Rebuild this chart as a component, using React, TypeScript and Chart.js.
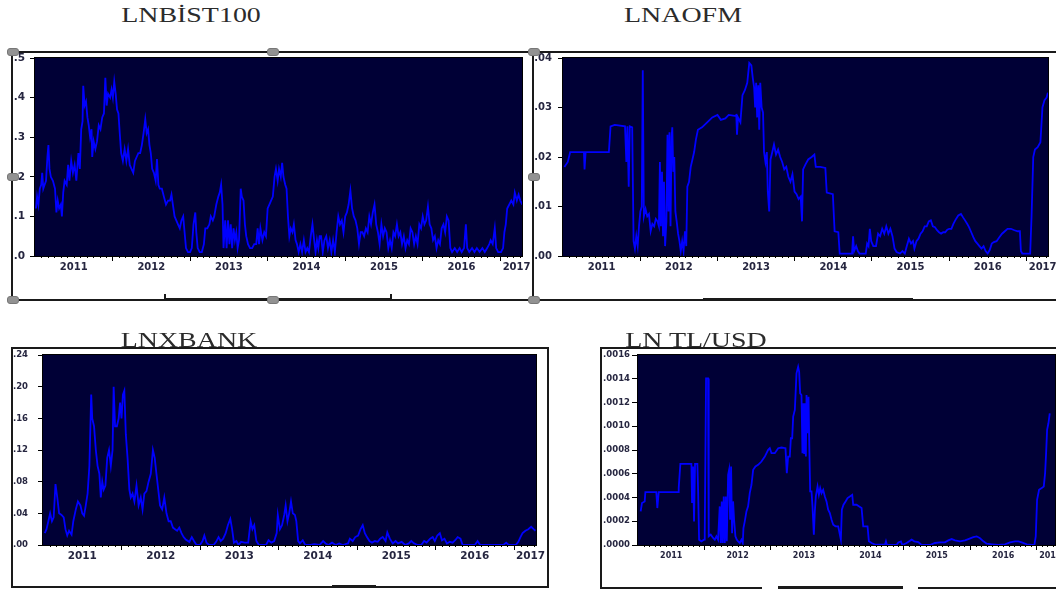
import React, { useEffect, useRef } from 'react';
import { Chart, registerables } from 'chart.js';

Chart.register(...registerables);

// ---------------- DATA ----------------
const YEAR_LABELS = ['2011', '2012', '2013', '2014', '2015', '2016', '2017'];
const X_MIN = 2011.0;
const X_MAX = 2017.28;

const BIST_Y_TICKS = [0, 0.1, 0.2, 0.3, 0.4, 0.5];
const AOFM_Y_TICKS = [0, 0.01, 0.02, 0.03, 0.04];
const XBANK_Y_TICKS = [0, 0.04, 0.08, 0.12, 0.16, 0.2, 0.24];
const TLUSD_Y_TICKS = [0, 0.0002, 0.0004, 0.0006, 0.0008, 0.001, 0.0012, 0.0014, 0.0016];

const TITLES = ['LNBİST100', 'LNAOFM', 'LNXBANK', 'LN TL/USD'];

// [date (fractional year), value]
const BIST100: [number, number][] = [
  [2011.013,0.12],[2011.027,0.15],[2011.044,0.13],[2011.062,0.17],[2011.080,0.18],[2011.093,0.21],[2011.107,0.17],[2011.124,0.18],[2011.142,0.19],[2011.160,0.25],[2011.173,0.28],[2011.187,0.22],[2011.204,0.20],[2011.231,0.19],[2011.258,0.17],[2011.276,0.11],[2011.293,0.14],[2011.311,0.12],[2011.333,0.13],[2011.347,0.10],[2011.364,0.16],[2011.382,0.19],[2011.409,0.18],[2011.427,0.23],[2011.444,0.19],[2011.467,0.24],[2011.489,0.21],[2011.511,0.23],[2011.533,0.19],[2011.560,0.26],[2011.578,0.22],[2011.596,0.32],[2011.613,0.34],[2011.622,0.43],[2011.640,0.38],[2011.658,0.39],[2011.676,0.35],[2011.693,0.33],[2011.711,0.30],[2011.729,0.32],[2011.738,0.25],[2011.756,0.29],[2011.778,0.27],[2011.800,0.29],[2011.822,0.33],[2011.844,0.32],[2011.867,0.35],[2011.889,0.36],[2011.907,0.45],[2011.924,0.38],[2011.942,0.41],[2011.969,0.40],[2011.987,0.42],
  [2012.004,0.40],[2012.022,0.44],[2012.040,0.41],[2012.058,0.37],[2012.076,0.36],[2012.093,0.31],[2012.111,0.26],[2012.133,0.24],[2012.156,0.27],[2012.178,0.24],[2012.200,0.27],[2012.222,0.23],[2012.244,0.22],[2012.267,0.21],[2012.289,0.24],[2012.311,0.25],[2012.333,0.26],[2012.356,0.26],[2012.378,0.28],[2012.400,0.31],[2012.422,0.345],[2012.440,0.31],[2012.458,0.32],[2012.476,0.28],[2012.493,0.26],[2012.511,0.22],[2012.533,0.21],[2012.556,0.19],[2012.573,0.245],[2012.591,0.18],[2012.609,0.17],[2012.636,0.17],[2012.662,0.15],[2012.689,0.13],[2012.716,0.14],[2012.742,0.14],[2012.760,0.155],[2012.778,0.13],[2012.800,0.10],[2012.822,0.09],[2012.844,0.08],[2012.867,0.07],[2012.889,0.09],[2012.911,0.10],[2012.929,0.06],[2012.947,0.02],[2012.973,0.01],
  [2013.000,0.01],[2013.022,0.02],[2013.044,0.08],[2013.067,0.11],[2013.080,0.06],[2013.098,0.02],[2013.124,0.01],[2013.151,0.01],[2013.178,0.03],[2013.196,0.07],[2013.222,0.07],[2013.249,0.08],[2013.267,0.10],[2013.293,0.09],[2013.311,0.10],[2013.338,0.13],[2013.364,0.15],[2013.382,0.16],[2013.400,0.18],[2013.418,0.13],[2013.431,0.02],[2013.453,0.09],[2013.471,0.02],[2013.489,0.09],[2013.507,0.03],[2013.524,0.08],[2013.542,0.02],[2013.560,0.07],[2013.578,0.04],[2013.596,0.06],[2013.613,0.02],[2013.631,0.04],[2013.653,0.17],[2013.667,0.15],[2013.689,0.14],[2013.707,0.08],[2013.724,0.05],[2013.747,0.03],[2013.773,0.02],[2013.800,0.02],[2013.827,0.03],[2013.853,0.03],[2013.871,0.07],[2013.889,0.03],[2013.907,0.07],[2013.933,0.04],[2013.956,0.06],[2013.978,0.05],
  [2014.000,0.12],[2014.022,0.13],[2014.044,0.14],[2014.067,0.15],[2014.089,0.20],[2014.107,0.22],[2014.129,0.19],[2014.147,0.22],[2014.169,0.20],[2014.187,0.235],[2014.204,0.20],[2014.227,0.18],[2014.244,0.17],[2014.262,0.10],[2014.280,0.05],[2014.298,0.07],[2014.320,0.06],[2014.338,0.08],[2014.360,0.04],[2014.378,0.03],[2014.400,0.01],[2014.422,0.03],[2014.444,0.01],[2014.467,0.04],[2014.489,0.01],[2014.511,0.02],[2014.533,0.01],[2014.556,0.05],[2014.578,0.08],[2014.600,0.04],[2014.618,0.01],[2014.636,0.04],[2014.653,0.02],[2014.671,0.05],[2014.689,0.05],[2014.711,0.01],[2014.733,0.04],[2014.756,0.05],[2014.778,0.02],[2014.800,0.04],[2014.822,0.01],[2014.844,0.04],[2014.867,0.01],[2014.889,0.06],[2014.911,0.10],[2014.933,0.08],[2014.956,0.09],[2014.978,0.06],
  [2015.000,0.10],[2015.022,0.11],[2015.044,0.13],[2015.067,0.165],[2015.089,0.12],[2015.111,0.10],[2015.133,0.09],[2015.156,0.07],[2015.178,0.03],[2015.200,0.06],[2015.222,0.06],[2015.244,0.05],[2015.267,0.07],[2015.289,0.06],[2015.311,0.10],[2015.333,0.08],[2015.356,0.11],[2015.378,0.13],[2015.400,0.08],[2015.422,0.06],[2015.444,0.03],[2015.467,0.08],[2015.489,0.05],[2015.511,0.07],[2015.533,0.06],[2015.556,0.02],[2015.578,0.04],[2015.600,0.02],[2015.622,0.06],[2015.644,0.05],[2015.667,0.08],[2015.689,0.05],[2015.711,0.06],[2015.733,0.03],[2015.756,0.05],[2015.778,0.02],[2015.800,0.04],[2015.822,0.03],[2015.844,0.07],[2015.867,0.06],[2015.889,0.03],[2015.911,0.05],[2015.933,0.03],[2015.956,0.08],[2015.978,0.07],
  [2016.000,0.10],[2016.022,0.08],[2016.044,0.09],[2016.067,0.125],[2016.089,0.08],[2016.111,0.07],[2016.133,0.04],[2016.156,0.05],[2016.178,0.02],[2016.200,0.04],[2016.222,0.03],[2016.244,0.07],[2016.267,0.08],[2016.289,0.06],[2016.311,0.10],[2016.333,0.09],[2016.356,0.02],[2016.378,0.01],[2016.413,0.02],[2016.444,0.01],[2016.476,0.02],[2016.502,0.01],[2016.533,0.02],[2016.556,0.08],[2016.573,0.02],[2016.600,0.01],[2016.636,0.02],[2016.667,0.01],[2016.698,0.02],[2016.733,0.01],[2016.769,0.02],[2016.800,0.01],[2016.831,0.02],[2016.858,0.03],[2016.876,0.04],[2016.902,0.03],[2016.929,0.07],[2016.947,0.02],[2016.973,0.01],
  [2017.009,0.01],[2017.036,0.02],[2017.053,0.06],[2017.071,0.08],[2017.089,0.12],[2017.116,0.13],[2017.142,0.14],[2017.169,0.13],[2017.187,0.16],[2017.213,0.14],[2017.236,0.155],[2017.258,0.14],[2017.284,0.13],
];

const AOFM: [number, number][] = [
  [2011.018,0.0180],[2011.062,0.0190],[2011.093,0.0210],[2011.271,0.0210],[2011.279,0.0175],[2011.293,0.0210],[2011.594,0.0210],[2011.616,0.0262],[2011.670,0.0265],[2011.803,0.0262],[2011.820,0.0190],[2011.834,0.0262],[2011.851,0.0140],[2011.865,0.0262],[2011.896,0.0260],[2011.914,0.0030],[2011.931,0.0015],[2011.949,0.0040],[2011.967,0.0020],[2011.984,0.0060],
  [2012.002,0.0090],[2012.020,0.0100],[2012.033,0.0375],[2012.047,0.0080],[2012.069,0.0095],[2012.091,0.0080],[2012.113,0.0085],[2012.135,0.0050],[2012.157,0.0065],[2012.180,0.0060],[2012.202,0.0075],[2012.224,0.0070],[2012.242,0.0060],[2012.255,0.0190],[2012.268,0.0060],[2012.282,0.0170],[2012.295,0.0040],[2012.308,0.0150],[2012.322,0.0020],[2012.339,0.0070],[2012.353,0.0245],[2012.366,0.0090],[2012.379,0.0250],[2012.392,0.0060],[2012.406,0.0240],[2012.415,0.0260],[2012.428,0.0170],[2012.441,0.0200],[2012.455,0.0090],[2012.472,0.0070],[2012.490,0.0045],[2012.508,0.0030],[2012.525,0.0010],[2012.543,0.0030],[2012.561,0.0010],[2012.579,0.0050],[2012.596,0.0020],[2012.610,0.0140],[2012.632,0.0150],[2012.654,0.0180],[2012.676,0.0195],[2012.698,0.0210],[2012.721,0.0235],[2012.747,0.0255],[2012.800,0.0260],[2012.867,0.0270],[2012.933,0.0280],
  [2013.000,0.0285],[2013.044,0.0275],[2013.102,0.0278],[2013.146,0.0285],[2013.222,0.0283],[2013.244,0.0285],[2013.253,0.0245],[2013.266,0.0280],[2013.297,0.0270],[2013.324,0.0325],[2013.355,0.0335],[2013.386,0.0350],[2013.412,0.0390],[2013.439,0.0385],[2013.457,0.0360],[2013.475,0.0340],[2013.488,0.0300],[2013.501,0.0350],[2013.514,0.0280],[2013.528,0.0345],[2013.541,0.0255],[2013.554,0.0350],[2013.572,0.0300],[2013.590,0.0290],[2013.603,0.0210],[2013.621,0.0190],[2013.639,0.0210],[2013.652,0.0130],[2013.670,0.0090],[2013.687,0.0195],[2013.710,0.0210],[2013.732,0.0225],[2013.758,0.0205],[2013.785,0.0215],[2013.812,0.0200],[2013.838,0.0190],[2013.865,0.0175],[2013.891,0.0180],[2013.918,0.0160],[2013.945,0.0150],[2013.971,0.0165],[2013.998,0.0130],
  [2014.024,0.0125],[2014.051,0.0115],[2014.078,0.0120],[2014.095,0.0070],[2014.109,0.0175],[2014.140,0.0185],[2014.175,0.0195],[2014.220,0.0200],[2014.255,0.0205],[2014.273,0.0180],[2014.330,0.0180],[2014.397,0.0178],[2014.415,0.0128],[2014.494,0.0125],[2014.517,0.0050],[2014.565,0.0048],[2014.583,0.0005],[2014.743,0.0005],[2014.756,0.0040],[2014.769,0.0010],[2014.796,0.0020],[2014.818,0.0010],[2014.840,0.0005],[2014.920,0.0005],[2014.938,0.0025],[2014.956,0.0020],[2014.973,0.0055],[2014.991,0.0030],
  [2015.018,0.0020],[2015.053,0.0020],[2015.080,0.0045],[2015.106,0.0040],[2015.133,0.0055],[2015.160,0.0045],[2015.186,0.0060],[2015.213,0.0045],[2015.239,0.0055],[2015.266,0.0040],[2015.293,0.0015],[2015.319,0.0008],[2015.364,0.0005],[2015.395,0.0010],[2015.426,0.0005],[2015.452,0.0020],[2015.479,0.0035],[2015.506,0.0025],[2015.532,0.0030],[2015.550,0.0015],[2015.577,0.0030],[2015.603,0.0035],[2015.630,0.0045],[2015.656,0.0050],[2015.683,0.0060],[2015.710,0.0060],[2015.736,0.0070],[2015.763,0.0072],[2015.789,0.0060],[2015.816,0.0058],[2015.843,0.0052],[2015.869,0.0048],[2015.896,0.0045],[2015.922,0.0048],[2015.949,0.0048],[2015.976,0.0053],
  [2016.002,0.0055],[2016.029,0.0055],[2016.055,0.0065],[2016.082,0.0073],[2016.118,0.0082],[2016.153,0.0085],[2016.180,0.0078],[2016.206,0.0072],[2016.233,0.0065],[2016.259,0.0058],[2016.286,0.0048],[2016.313,0.0038],[2016.339,0.0030],[2016.366,0.0025],[2016.392,0.0020],[2016.419,0.0015],[2016.446,0.0020],[2016.472,0.0010],[2016.499,0.0005],[2016.525,0.0012],[2016.552,0.0025],[2016.579,0.0028],[2016.614,0.0030],[2016.650,0.0038],[2016.685,0.0045],[2016.721,0.0050],[2016.756,0.0055],[2016.800,0.0055],[2016.845,0.0052],[2016.889,0.0050],[2016.916,0.0050],[2016.929,0.0010],[2016.947,0.0005],
  [2017.049,0.0005],[2017.067,0.0080],[2017.089,0.0200],[2017.111,0.0215],[2017.146,0.0220],[2017.182,0.0230],[2017.208,0.0300],[2017.235,0.0315],[2017.262,0.0320],[2017.279,0.0330],
];

const XBANK: [number, number][] = [
  [2011.023,0.015],[2011.045,0.020],[2011.068,0.030],[2011.091,0.040],[2011.114,0.030],[2011.136,0.035],[2011.159,0.077],[2011.182,0.060],[2011.205,0.040],[2011.236,0.038],[2011.264,0.035],[2011.286,0.020],[2011.309,0.012],[2011.332,0.018],[2011.364,0.013],[2011.386,0.030],[2011.418,0.045],[2011.445,0.055],[2011.477,0.050],[2011.500,0.040],[2011.523,0.037],[2011.545,0.050],[2011.568,0.065],[2011.591,0.100],[2011.614,0.190],[2011.627,0.160],[2011.650,0.150],[2011.673,0.120],[2011.695,0.100],[2011.718,0.090],[2011.736,0.060],[2011.755,0.080],[2011.773,0.070],[2011.795,0.075],[2011.818,0.110],[2011.841,0.120],[2011.864,0.100],[2011.886,0.120],[2011.900,0.200],[2011.918,0.150],[2011.941,0.150],[2011.964,0.160],[2011.982,0.180],
  [2012.000,0.160],[2012.018,0.190],[2012.036,0.195],[2012.055,0.140],[2012.077,0.110],[2012.100,0.070],[2012.118,0.060],[2012.141,0.065],[2012.164,0.055],[2012.191,0.075],[2012.218,0.050],[2012.245,0.060],[2012.268,0.045],[2012.291,0.065],[2012.318,0.068],[2012.345,0.080],[2012.373,0.090],[2012.400,0.120],[2012.423,0.110],[2012.445,0.090],[2012.468,0.070],[2012.491,0.050],[2012.518,0.045],[2012.545,0.060],[2012.573,0.040],[2012.600,0.030],[2012.627,0.030],[2012.655,0.022],[2012.682,0.020],[2012.709,0.018],[2012.736,0.022],[2012.764,0.015],[2012.791,0.010],[2012.818,0.007],[2012.864,0.004],[2012.895,0.010],[2012.923,0.005],[2012.955,0.000],
  [2013.000,0.000],[2013.032,0.005],[2013.055,0.012],[2013.082,0.003],[2013.114,0.000],[2013.173,0.000],[2013.205,0.004],[2013.236,0.010],[2013.264,0.005],[2013.295,0.008],[2013.327,0.015],[2013.355,0.025],[2013.386,0.033],[2013.409,0.020],[2013.432,0.003],[2013.464,0.005],[2013.491,0.000],[2013.523,0.004],[2013.568,0.003],[2013.614,0.003],[2013.645,0.030],[2013.668,0.020],[2013.691,0.025],[2013.718,0.005],[2013.750,0.000],[2013.841,0.000],[2013.873,0.006],[2013.909,0.003],[2013.945,0.005],[2013.977,0.015],[2013.991,0.038],
  [2014.018,0.020],[2014.045,0.025],[2014.073,0.038],[2014.091,0.050],[2014.114,0.030],[2014.136,0.040],[2014.159,0.055],[2014.182,0.040],[2014.209,0.038],[2014.227,0.030],[2014.250,0.005],[2014.273,0.002],[2014.309,0.006],[2014.341,0.000],[2014.409,0.000],[2014.455,0.001],[2014.523,0.000],[2014.568,0.005],[2014.600,0.002],[2014.636,0.000],[2014.682,0.003],[2014.727,0.000],[2014.773,0.002],[2014.818,0.000],[2014.886,0.002],[2014.909,0.008],[2014.945,0.005],[2014.977,0.010],
  [2015.014,0.012],[2015.045,0.020],[2015.073,0.025],[2015.100,0.015],[2015.127,0.010],[2015.159,0.005],[2015.191,0.003],[2015.227,0.005],[2015.264,0.004],[2015.295,0.008],[2015.327,0.010],[2015.364,0.005],[2015.386,0.016],[2015.418,0.008],[2015.455,0.002],[2015.491,0.005],[2015.523,0.002],[2015.568,0.004],[2015.614,0.000],[2015.659,0.002],[2015.691,0.005],[2015.727,0.002],[2015.773,0.000],[2015.818,0.000],[2015.855,0.005],[2015.886,0.003],[2015.932,0.008],[2015.964,0.010],[2015.991,0.005],
  [2016.023,0.012],[2016.055,0.015],[2016.082,0.006],[2016.114,0.008],[2016.145,0.002],[2016.182,0.004],[2016.218,0.003],[2016.250,0.006],[2016.282,0.010],[2016.318,0.008],[2016.345,0.000],[2016.500,0.000],[2016.536,0.005],[2016.568,0.000],[2016.864,0.000],[2016.900,0.003],[2016.932,0.000],
  [2017.023,0.000],[2017.055,0.004],[2017.082,0.010],[2017.109,0.015],[2017.145,0.018],[2017.182,0.020],[2017.218,0.023],[2017.250,0.020],[2017.273,0.018],
];

const TLUSD: [number, number][] = [
  [2011.040,0.000283],[2011.060,0.000353],[2011.101,0.000367],[2011.111,0.000445],[2011.276,0.000445],[2011.291,0.000311],[2011.312,0.000445],[2011.603,0.000445],[2011.613,0.000479],[2011.638,0.000683],[2011.804,0.000683],[2011.814,0.000353],[2011.829,0.000661],[2011.844,0.000199],[2011.859,0.000683],[2011.894,0.000683],[2011.905,0.000465],[2011.920,0.000045],[2011.955,0.000031],[2011.995,0.000045],
  [2012.005,0.000100],[2012.025,0.001403],[2012.055,0.001403],[2012.065,0.000073],[2012.095,0.000087],[2012.131,0.000059],[2012.156,0.000045],[2012.181,0.000073],[2012.206,0.000045],[2012.231,0.000325],[2012.246,0.000017],[2012.261,0.000367],[2012.276,0.000017],[2012.291,0.000409],[2012.307,0.000017],[2012.322,0.000409],[2012.337,0.000031],[2012.357,0.000591],[2012.372,0.000633],[2012.387,0.000213],[2012.402,0.000661],[2012.417,0.000100],[2012.432,0.000367],[2012.447,0.000213],[2012.467,0.000073],[2012.487,0.000045],[2012.508,0.000031],[2012.533,0.000017],[2012.558,0.000045],[2012.578,0.000017],[2012.588,0.000143],[2012.608,0.000199],[2012.633,0.000283],[2012.658,0.000325],[2012.683,0.000437],[2012.709,0.000507],[2012.734,0.000633],[2012.769,0.000661],[2012.809,0.000675],[2012.859,0.000703],[2012.910,0.000745],[2012.960,0.000801],[2012.985,0.000815],
  [2013.010,0.000773],[2013.060,0.000773],[2013.111,0.000815],[2013.161,0.000821],[2013.221,0.000815],[2013.241,0.000605],[2013.261,0.000745],[2013.286,0.000745],[2013.302,0.000899],[2013.322,0.000899],[2013.337,0.001081],[2013.362,0.001137],[2013.387,0.001445],[2013.412,0.001501],[2013.427,0.001459],[2013.442,0.001277],[2013.462,0.001263],[2013.477,0.000773],[2013.487,0.001193],[2013.503,0.000773],[2013.513,0.001193],[2013.528,0.000745],[2013.538,0.001263],[2013.553,0.000941],[2013.568,0.001249],[2013.578,0.000885],[2013.593,0.000451],[2013.613,0.000451],[2013.628,0.000325],[2013.648,0.000087],[2013.663,0.000283],[2013.678,0.000409],[2013.704,0.000493],[2013.724,0.000423],[2013.744,0.000479],[2013.764,0.000437],[2013.789,0.000465],[2013.814,0.000409],[2013.839,0.000367],[2013.864,0.000297],[2013.889,0.000269],[2013.915,0.000213],[2013.940,0.000171],[2013.975,0.000157],
  [2014.015,0.000157],[2014.055,0.000045],[2014.070,0.000297],[2014.095,0.000339],[2014.126,0.000367],[2014.156,0.000395],[2014.191,0.000409],[2014.226,0.000423],[2014.241,0.000339],[2014.291,0.000339],[2014.332,0.000325],[2014.367,0.000311],[2014.392,0.000157],[2014.457,0.000157],[2014.477,0.000031],[2014.518,0.000017],[2014.568,0.000003],[2014.719,0.000003],[2014.734,0.000031],[2014.749,0.0],[2014.894,0.0],[2014.920,0.000022],[2014.960,0.000031],[2014.980,0.0],
  [2015.045,0.000017],[2015.121,0.000045],[2015.161,0.000031],[2015.221,0.000025],[2015.271,0.0],[2015.397,0.0],[2015.472,0.000017],[2015.548,0.000022],[2015.623,0.000022],[2015.673,0.000039],[2015.724,0.000050],[2015.774,0.000039],[2015.849,0.000031],[2015.925,0.000039],[2015.975,0.000050],
  [2016.050,0.000067],[2016.101,0.000073],[2016.151,0.000056],[2016.201,0.000031],[2016.251,0.000011],[2016.327,0.000006],[2016.427,0.0],[2016.528,0.000006],[2016.603,0.000022],[2016.678,0.000031],[2016.729,0.000031],[2016.779,0.000022],[2016.854,0.000006],[2016.930,0.0],[2016.970,0.0],[2016.990,0.000073],
  [2017.010,0.000381],[2017.040,0.000465],[2017.080,0.000479],[2017.111,0.000493],[2017.131,0.000605],[2017.146,0.000773],[2017.161,0.000969],[2017.181,0.001025],[2017.201,0.001109],
];

// ---------------- STYLE ----------------
const NAVY = '#000036';
const LINE_BLUE = '#0000ff';
const LABEL_COLOR = '#262640';
const FRAME = '#1a1a1a';

// x ticks: year boundaries (tick marks) + mid-year label positions
const X_TICKS = YEAR_LABELS.flatMap((label, i) => {
  const yr = Number(label);
  const out: any[] = [];
  if (i > 0) out.push({ value: yr, isYear: true, txt: '' });
  out.push({ value: i < YEAR_LABELS.length - 1 ? yr + 0.5 : yr + 0.21, isYear: false, txt: label });
  return out;
});

const plotFramePlugin = {
  id: 'plotFrame',
  beforeDatasetsDraw(chart: any) {
    const { ctx, chartArea: a } = chart;
    ctx.save();
    ctx.fillStyle = NAVY;
    ctx.fillRect(a.left, a.top, a.right - a.left, a.bottom - a.top);
    ctx.restore();
  },
  afterDatasetsDraw(chart: any) {
    const { ctx, chartArea: a, scales } = chart;
    const xs = scales.x;
    ctx.save();
    ctx.strokeStyle = '#000';
    ctx.lineWidth = 1;
    ctx.strokeRect(a.left - 0.5, a.top - 0.5, a.right - a.left + 1, a.bottom - a.top + 1);
    ctx.beginPath();
    for (let m = Math.ceil(xs.min * 12 + 1e-6); m <= Math.floor(xs.max * 12 - 1e-6); m++) {
      if (m % 12 === 0) continue;
      const px = Math.round(xs.getPixelForValue(m / 12)) + 0.5;
      ctx.moveTo(px, a.bottom);
      ctx.lineTo(px, a.bottom + 2);
    }
    ctx.stroke();
    ctx.restore();
  },
};

type PanelSpec = {
  left: number; top: number; width: number; height: number;
  pad: { left: number; right: number; top: number; bottom: number };
  yWidth: number; xHeight: number;
  points: [number, number][];
  yTicks: number[]; decimals: number;
  yFont: number; xFont: number; yPad: number; xPad: number; yTickLen: number;
};

function Panel({ spec }: { spec: PanelSpec }) {
  const ref = useRef<HTMLCanvasElement | null>(null);
  useEffect(() => {
    if (!ref.current) return;
    const s = spec;
    const chart = new Chart(ref.current, {
      type: 'line',
      data: {
        datasets: [
          {
            data: s.points.map(([x, y]) => ({ x, y })),
            borderColor: LINE_BLUE,
            borderWidth: 1.8,
            pointRadius: 0,
            tension: 0,
            fill: false,
          },
        ],
      },
      options: {
        animation: false,
        responsive: false,
        events: [],
        layout: { padding: s.pad },
        plugins: { legend: { display: false }, tooltip: { enabled: false }, title: { display: false } },
        scales: {
          x: {
            type: 'linear',
            min: X_MIN,
            max: X_MAX,
            bounds: 'data',
            afterBuildTicks: (scale: any) => {
              scale.ticks = X_TICKS.map((t) => ({ ...t }));
            },
            afterFit: (scale: any) => {
              scale.height = s.xHeight;
              scale.paddingLeft = 0;
              scale.paddingRight = 0;
            },
            grid: {
              display: true,
              drawOnChartArea: false,
              drawTicks: true,
              tickLength: 5,
              tickWidth: 1,
              tickColor: (c: any) => (c.tick && c.tick.isYear ? '#000' : 'rgba(0,0,0,0)'),
            },
            border: { display: false },
            ticks: {
              autoSkip: false,
              maxRotation: 0,
              minRotation: 0,
              padding: s.xPad,
              color: LABEL_COLOR,
              font: { family: 'DejaVu Sans', size: s.xFont, weight: 'bold' },
              callback: (_v: any, index: number, ticks: any[]) => (ticks[index] && ticks[index].txt) || '',
            },
          },
          y: {
            type: 'linear',
            min: s.yTicks[0],
            max: s.yTicks[s.yTicks.length - 1],
            afterBuildTicks: (scale: any) => {
              scale.ticks = s.yTicks.map((v) => ({ value: v }));
            },
            afterFit: (scale: any) => {
              scale.width = s.yWidth;
              scale.paddingTop = 0;
              scale.paddingBottom = 0;
            },
            grid: {
              display: true,
              drawOnChartArea: false,
              drawTicks: true,
              tickLength: s.yTickLen,
              tickColor: '#000',
            },
            border: { display: false },
            ticks: {
              padding: s.yPad,
              color: LABEL_COLOR,
              font: { family: 'DejaVu Sans', size: s.yFont, weight: 'bold' },
              callback: (v: any) => Number(v).toFixed(s.decimals).replace(/^0\./, '.'),
            },
          },
        },
      } as any,
      plugins: [plotFramePlugin],
    });
    return () => chart.destroy();
  }, [spec]);
  return (
    <canvas
      ref={ref}
      width={spec.width}
      height={spec.height}
      style={{ position: 'absolute', left: spec.left, top: spec.top, width: spec.width, height: spec.height }}
    />
  );
}

const PANELS: PanelSpec[] = [
  {
    left: 0, top: 45, width: 540, height: 241,
    pad: { left: 0, right: 18, top: 13, bottom: 0 },
    yWidth: 35, xHeight: 30, points: BIST100, yTicks: BIST_Y_TICKS, decimals: 1,
    yFont: 10.5, xFont: 10, yPad: 5, xPad: 0, yTickLen: 5,
  },
  {
    left: 530, top: 45, width: 526, height: 241,
    pad: { left: 0, right: 8, top: 13, bottom: 0 },
    yWidth: 33, xHeight: 30, points: AOFM, yTicks: AOFM_Y_TICKS, decimals: 2,
    yFont: 10, xFont: 10, yPad: 6, xPad: 0, yTickLen: 5,
  },
  {
    left: 0, top: 340, width: 560, height: 236,
    pad: { left: 0, right: 24, top: 15, bottom: 0 },
    yWidth: 43, xHeight: 31, points: XBANK, yTicks: XBANK_Y_TICKS, decimals: 2,
    yFont: 8.5, xFont: 10.5, yPad: 10, xPad: 0, yTickLen: 5,
  },
  {
    left: 595, top: 340, width: 461, height: 236,
    pad: { left: 0, right: 1, top: 15, bottom: 0 },
    yWidth: 43, xHeight: 31, points: TLUSD, yTicks: TLUSD_Y_TICKS, decimals: 4,
    yFont: 8.5, xFont: 8, yPad: 2, xPad: 1, yTickLen: 6,
  },
];

const TITLE_POS = [
  { cx: 191, top: 4.7 },
  { cx: 683, top: 4.6 },
  { cx: 189, top: 330 },
  { cx: 696, top: 329.5 },
];

// frame lines [x, y, w, h]
const LINES: [number, number, number, number][] = [
  [11, 51, 1045, 2], [11, 51, 2, 250], [532, 51, 2, 250], [11, 299, 1045, 2],
  [164, 294, 2, 7], [390, 294, 2, 7], [164, 298, 228, 3],
  [703, 298, 210, 3],
  [11, 347, 538, 2], [11, 347, 2, 241], [547, 347, 2, 241], [11, 586, 538, 2], [332, 585, 44, 3],
  [600, 347, 2, 242], [600, 347, 456, 2], [600, 587, 162, 2], [778, 586, 125, 3], [918, 587, 138, 2],
];

const HANDLES: [number, number][] = [
  [13, 52], [273, 52], [534, 52], [13, 177], [534, 177], [13, 300], [273, 300], [534, 300],
];

export default function App() {
  return (
    <div
      style={{
        position: 'absolute', left: 0, top: 0, width: 1056, height: 594,
        overflow: 'hidden', background: '#ffffff',
      }}
    >
      {PANELS.map((p, i) => (
        <Panel key={i} spec={p} />
      ))}
      {LINES.map(([x, y, w, h], i) => (
        <div key={'l' + i} style={{ position: 'absolute', left: x, top: y, width: w, height: h, background: FRAME }} />
      ))}
      {HANDLES.map(([cx, cy], i) => (
        <div
          key={'h' + i}
          style={{
            position: 'absolute', left: cx - 6, top: cy - 4, width: 12, height: 8,
            background: '#929292', border: '1px solid #777', borderRadius: 3, boxSizing: 'border-box',
          }}
        />
      ))}
      {TITLES.map((t, i) => (
        <div
          key={'t' + i}
          style={{
            position: 'absolute', left: TITLE_POS[i].cx, top: TITLE_POS[i].top,
            fontFamily: "'Liberation Serif', 'Times New Roman', serif", fontSize: 21, lineHeight: '21px',
            color: '#2b2b2b', whiteSpace: 'nowrap', transform: 'translateX(-50%) scaleX(1.33)',
          }}
        >
          {t}
        </div>
      ))}
    </div>
  );
}
